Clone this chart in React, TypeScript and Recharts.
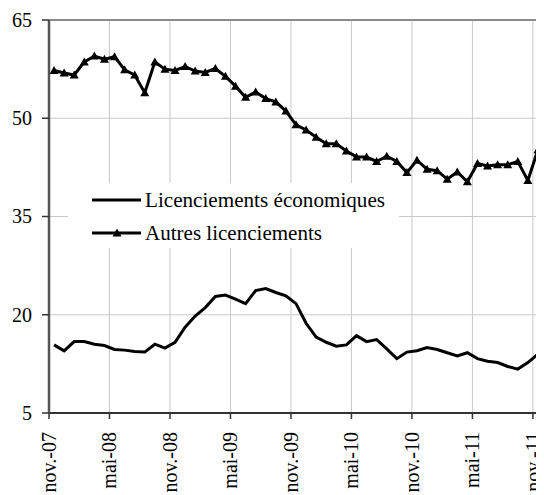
import { LineChart, Line, XAxis, YAxis, CartesianGrid, ReferenceLine } from 'recharts';

const months = [
  'nov.-07', 'déc.-07', 'janv.-08', 'févr.-08', 'mars-08', 'avr.-08', 'mai-08', 'juin-08', 'juil.-08', 'août-08', 'sept.-08', 'oct.-08',
  'nov.-08', 'déc.-08', 'janv.-09', 'févr.-09', 'mars-09', 'avr.-09', 'mai-09', 'juin-09', 'juil.-09', 'août-09', 'sept.-09', 'oct.-09',
  'nov.-09', 'déc.-09', 'janv.-10', 'févr.-10', 'mars-10', 'avr.-10', 'mai-10', 'juin-10', 'juil.-10', 'août-10', 'sept.-10', 'oct.-10',
  'nov.-10', 'déc.-10', 'janv.-11', 'févr.-11', 'mars-11', 'avr.-11', 'mai-11', 'juin-11', 'juil.-11', 'août-11', 'sept.-11', 'oct.-11',
  'nov.-11',
];

const economiques = [
  15.4, 14.5, 15.9, 15.9, 15.5, 15.3, 14.7, 14.6, 14.4, 14.3, 15.5, 14.9,
  15.8, 18.1, 19.8, 21.1, 22.8, 23.0, 22.4, 21.7, 23.7, 24.0, 23.4, 22.9,
  21.7, 18.7, 16.6, 15.8, 15.2, 15.4, 16.8, 15.9, 16.2, 14.8, 13.3, 14.3,
  14.5, 15.0, 14.7, 14.2, 13.7, 14.2, 13.3, 12.9, 12.7, 12.1, 11.7, 12.7,
  14.0,
];

const autres = [
  57.3, 56.9, 56.6, 58.6, 59.5, 59.0, 59.4, 57.4, 56.6, 53.9, 58.6, 57.5,
  57.3, 57.9, 57.2, 57.0, 57.6, 56.4, 54.9, 53.2, 54.0, 53.0, 52.5, 51.1,
  49.0, 48.2, 47.1, 46.1, 46.1, 45.0, 44.1, 44.1, 43.4, 44.2, 43.4, 41.7,
  43.6, 42.2, 42.0, 40.7, 41.8, 40.3, 43.1, 42.7, 42.9, 42.9, 43.4, 40.5,
  45.2,
];

const yTicks = [5, 20, 35, 50, 65];
const xTicks = [0, 6, 12, 18, 24, 30, 36, 42, 48];

const seriesNames = ['Licenciements économiques', 'Autres licenciements'];

const data = months.map((m, i) => ({ pos: i + 0.5, month: m, eco: economiques[i], autres: autres[i] }));

const FONT = '"Liberation Serif", "Times New Roman", serif';

function Triangle(props: any) {
  const { cx, cy } = props;
  if (cx == null || cy == null) return null;
  return <path d={`M${cx},${cy - 4.5} L${cx + 4.5},${cy + 3.5} L${cx - 4.5},${cy + 3.5} Z`} fill="#000" />;
}

// rotated month labels, text ends just under the tick
function XTick({ x, y, payload }: any) {
  const ty = y + 5;
  return (
    <text
      x={x}
      y={ty}
      transform={`rotate(-90 ${x} ${ty})`}
      textAnchor="end"
      dy="0.34em"
      fontFamily={FONT}
      fontSize={20}
      fill="#000"
    >
      {months[payload.value]}
    </text>
  );
}

function YTick({ x, y, payload }: any) {
  return (
    <text x={x} y={y} textAnchor="end" dy="0.34em" fontFamily={FONT} fontSize={20} fill="#000">
      {payload.value}
    </text>
  );
}

function LegendBox() {
  return (
    <div style={{ position: 'absolute', left: 60, top: 175, width: 331, height: 65, background: '#fff' }}>
      <svg width={331} height={65}>
        <line x1={24} x2={73} y1={17} y2={17} stroke="#000" strokeWidth={3} />
        <text x={77} y={17} dy="0.34em" fontFamily={FONT} fontSize={20} fill="#000" textLength={240} lengthAdjust="spacingAndGlyphs">
          {seriesNames[0]}
        </text>
        <line x1={24} x2={73} y1={50} y2={50} stroke="#000" strokeWidth={3} />
        <Triangle cx={49} cy={50} />
        <text x={77} y={50} dy="0.34em" fontFamily={FONT} fontSize={20} fill="#000" textLength={177} lengthAdjust="spacingAndGlyphs">
          {seriesNames[1]}
        </text>
      </svg>
    </div>
  );
}

export default function App() {
  return (
    <div style={{ position: 'relative', width: 536, height: 487 }}>
      <LineChart width={536} height={487} data={data} margin={{ top: 12, right: 1, left: 0, bottom: 0 }}>
        <CartesianGrid stroke="#c8c8c8" strokeWidth={1} />
        <XAxis
          type="number"
          dataKey="pos"
          domain={[0, 49]}
          ticks={xTicks}
          interval={0}
          height={82}
          tick={<XTick />}
          tickSize={6}
          tickMargin={8}
          axisLine={{ stroke: '#333', strokeWidth: 2 }}
          tickLine={{ stroke: '#333', strokeWidth: 1.5 }}
        />
        <YAxis
          type="number"
          domain={[5, 65]}
          ticks={yTicks}
          interval={0}
          width={41}
          tick={<YTick />}
          tickSize={7}
          tickMargin={10}
          axisLine={{ stroke: '#555', strokeWidth: 2.5 }}
          tickLine={{ stroke: '#333', strokeWidth: 1.5 }}
        />
        <ReferenceLine y={65} stroke="#8a8a8a" strokeWidth={2} />
        <ReferenceLine x={49} stroke="#8a8a8a" strokeWidth={2} />
        <Line
          type="linear"
          dataKey="eco"
          name={seriesNames[0]}
          stroke="#000"
          strokeWidth={3}
          dot={false}
          isAnimationActive={false}
        />
        <Line
          type="linear"
          dataKey="autres"
          name={seriesNames[1]}
          stroke="#000"
          strokeWidth={3}
          dot={<Triangle />}
          isAnimationActive={false}
        />
      </LineChart>
      <LegendBox />
    </div>
  );
}
